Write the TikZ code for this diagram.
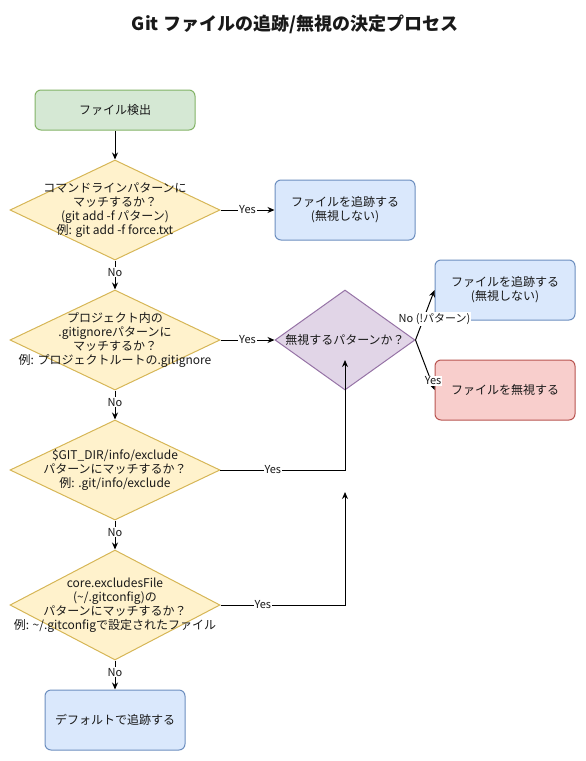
\documentclass[tikz,border=0pt]{standalone}
\usepackage{fontspec}
\setmainfont{Noto Sans CJK JP}
\usetikzlibrary{shapes.geometric,arrows.meta}

\definecolor{greenfill}{HTML}{D5E8D4}
\definecolor{greenline}{HTML}{82B366}
\definecolor{bluefill}{HTML}{DAE8FC}
\definecolor{blueline}{HTML}{6C8EBF}
\definecolor{redfill}{HTML}{F8CECC}
\definecolor{redline}{HTML}{B85450}
\definecolor{yellowfill}{HTML}{FFF2CC}
\definecolor{yellowline}{HTML}{D6B656}
\definecolor{purplefill}{HTML}{E1D5E7}
\definecolor{purpleline}{HTML}{9673A6}

\begin{document}
\begin{tikzpicture}[x=1pt,y=-1pt,
  every node/.style={font=\fontsize{12}{14}\selectfont, text=black!90},
  procbox/.style={draw=blueline, fill=bluefill, rounded corners=6pt, line width=1pt,
    minimum width=140pt, minimum height=60pt, align=center},
  decision/.style={diamond, draw=yellowline, fill=yellowfill, line width=1pt,
    minimum width=210pt, minimum height=100pt, inner sep=0pt},
  qtext/.style={align=center, inner sep=0pt},
  flow/.style={-{Stealth[length=7pt,width=6pt]}, line width=1pt},
  edgelabel/.style={fill=white, inner sep=1pt, font=\fontsize{11}{13}\selectfont}]

  \useasboundingbox (0,0) rectangle (586,761);

  % Title
  \node[font=\fontsize{18}{21}\selectfont\bfseries] (title) at (295,24) {Git ファイルの追跡/無視の決定プロセス};

  % Start
  \node[procbox, draw=greenline, fill=greenfill, minimum width=160pt, minimum height=40pt] (start) at (115,110) {ファイル検出};

  % Questions
  \node[decision] (q1) at (115,210) {};
  \node[qtext] (q1txt) at (q1) {コマンドラインパターンに\\マッチするか？\\(git add -f パターン)\\例: git add -f force.txt};
  \node[decision] (q2) at (115,340) {};
  \node[qtext] (q2txt) at (q2) {プロジェクト内の\\.gitignoreパターンに\\マッチするか？\\例: プロジェクトルートの.gitignore};
  \node[decision] (q3) at (115,470) {};
  \node[qtext] (q3txt) at (q3) {\$GIT\_DIR/info/exclude\\パターンにマッチするか？\\例: .git/info/exclude};
  \node[decision, minimum height=110pt] (q4) at (115,605) {};
  \node[qtext] (q4txt) at (q4) {core.excludesFile\\(\textasciitilde/.gitconfig)の\\パターンにマッチするか？\\例: \textasciitilde/.gitconfigで設定されたファイル};

  % Results
  \node[procbox] (track1) at (345,210) {ファイルを追跡する\\(無視しない)};
  \node[decision, draw=purpleline, fill=purplefill, minimum width=140pt] (ignq) at (345,340) {};
  \node[qtext] (ignqtxt) at (ignq) {無視するパターンか？};
  \node[procbox] (track2) at (505,290) {ファイルを追跡する\\(無視しない)};
  \node[procbox, draw=redline, fill=redfill] (ignore) at (505,390) {ファイルを無視する};
  \node[procbox, minimum height=60pt] (default) at (115,720) {デフォルトで追跡する};

  \coordinate (ignin) at (345,360); % Arrow end inside the diamond
  \coordinate (coreend) at (345,492); % Loose arrow end

  % Main flow
  \draw[flow] (start) -- (q1);
  \draw[flow] (q1) -- node[edgelabel] {Yes} (track1);
  \draw[flow] (q1) -- node[edgelabel, pos=0.4] {No} (q2);
  \draw[flow] (q2) -- node[edgelabel] {Yes} (ignq);
  \draw[flow] (q2) -- node[edgelabel, pos=0.4] {No} (q3);
  \draw[flow] (q3) -- node[edgelabel, pos=0.42] {Yes} (q3.east -| ignin) -- (ignin);
  \draw[flow] (q3) -- node[edgelabel, pos=0.4] {No} (q4);
  \draw[flow] (q4) -- node[edgelabel, pos=0.34] {Yes} (q4.east -| coreend) -- (coreend);
  \draw[flow] (q4) -- node[edgelabel, pos=0.4] {No} (default);

  % Ignore check
  \draw[flow] (ignq.east) -- node[edgelabel, pos=0.42, xshift=11pt] {No (!パターン)} (track2.west);
  \draw[flow] (ignq.east) -- node[edgelabel, pos=0.82, xshift=2pt] {Yes} (ignore.west);

\end{tikzpicture}
\end{document}
